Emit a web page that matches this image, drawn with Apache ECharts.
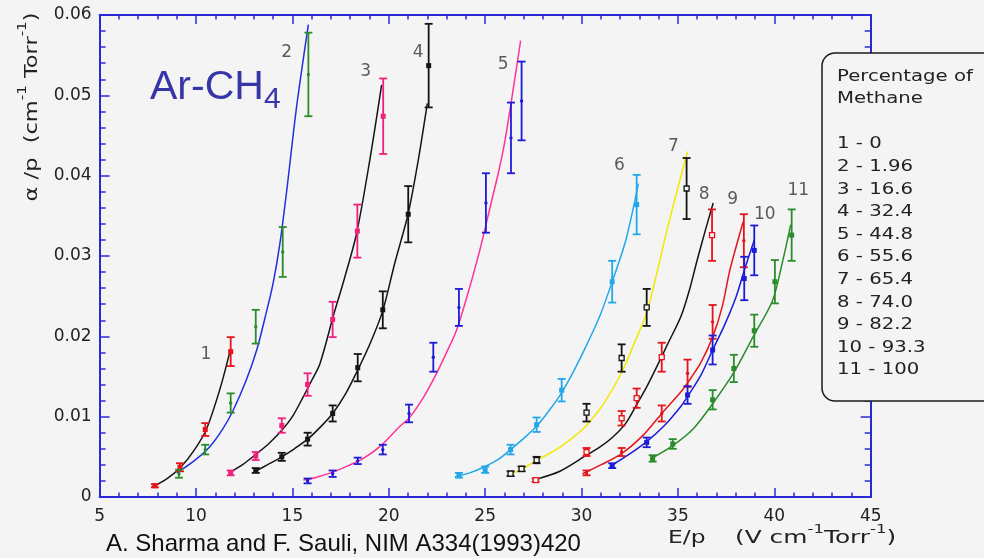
<!DOCTYPE html>
<html>
<head>
<meta charset="utf-8">
<script src="https://cdn.jsdelivr.net/npm/echarts@6/dist/echarts.min.js"></script>
<style>
  html, body { margin: 0; padding: 0; background: #f4f4f4; }
  #chart { width: 984px; height: 558px; }
</style>
</head>
<body>
<div id="chart"></div>
<script>
// First Townsend coefficient α/p versus reduced field E/p in Ar–CH4 mixtures.

// Methane fraction (%) of each numbered mixture
const curveTags  = ['1', '2', '3', '4', '5', '6', '7', '8', '9', '10', '11'];
const methanePct = ['0', '1.96', '16.6', '32.4', '44.8', '55.6', '65.4', '74.0', '82.2', '93.3', '100'];

// Measured points: [E/p, α/p, error]
const meas1  = [[7.87, 0.0014, 0.0002], [9.17, 0.0037, 0.0005], [10.48, 0.0084, 0.0008], [11.8, 0.0181, 0.0018]];
const meas2  = [[9.12, 0.0029, 0.0005], [10.48, 0.0059, 0.0006], [11.8, 0.0117, 0.0012], [13.1, 0.0212, 0.0021], [14.5, 0.0305, 0.0031], [15.83, 0.0526, 0.0052]];
const meas3  = [[11.8, 0.0030, 0.0003], [13.1, 0.0051, 0.0005], [14.45, 0.0089, 0.0009], [15.79, 0.0140, 0.0014], [17.09, 0.0221, 0.0022], [18.37, 0.0331, 0.0033], [19.71, 0.0474, 0.0047]];
const meas4  = [[13.1, 0.0033, 0.0003], [14.45, 0.0050, 0.0005], [15.79, 0.0072, 0.0008], [17.09, 0.0104, 0.0010], [18.39, 0.0161, 0.0017], [19.69, 0.0233, 0.0023], [21.01, 0.0352, 0.0035], [22.07, 0.0537, 0.0052]];
const meas5  = [[15.79, 0.0020, 0.0003], [17.09, 0.0029, 0.0004], [18.39, 0.0045, 0.0004], [19.69, 0.0059, 0.0006], [21.05, 0.0104, 0.0011], [22.31, 0.0174, 0.0018], [23.64, 0.0236, 0.0023], [25.04, 0.0366, 0.0037], [26.34, 0.0447, 0.0044], [26.89, 0.0493, 0.0049]];
const meas6  = [[23.64, 0.0027, 0.0003], [25.0, 0.0034, 0.0004], [26.32, 0.0059, 0.0006], [27.67, 0.0090, 0.0009], [28.97, 0.0133, 0.0014], [31.59, 0.0268, 0.0026], [32.86, 0.0364, 0.0037]];
const meas7  = [[26.32, 0.0029, 0.0003], [26.89, 0.0035, 0.0003], [27.67, 0.0046, 0.0004], [30.26, 0.0105, 0.0011], [32.08, 0.0173, 0.0017], [33.38, 0.0236, 0.0023], [35.45, 0.0384, 0.0038]];
const meas8  = [[27.62, 0.0021, 0.0002], [30.26, 0.0056, 0.0005], [32.08, 0.0098, 0.0009], [32.86, 0.0123, 0.0012], [34.16, 0.0174, 0.0018], [36.77, 0.0326, 0.0032]];
const meas9  = [[30.26, 0.0030, 0.0003], [32.08, 0.0056, 0.0005], [34.16, 0.0104, 0.0010], [35.5, 0.0154, 0.0017], [36.8, 0.0218, 0.0021], [38.42, 0.0319, 0.0033]];
const meas10 = [[31.59, 0.0039, 0.0003], [33.38, 0.0068, 0.0006], [35.5, 0.0127, 0.0011], [36.8, 0.0183, 0.0018], [38.44, 0.0272, 0.0027], [38.96, 0.0307, 0.0031]];
const meas11 = [[33.69, 0.0048, 0.0004], [34.73, 0.0066, 0.0006], [36.8, 0.0121, 0.0012], [37.9, 0.0160, 0.0017], [38.96, 0.0207, 0.0020], [40.03, 0.0268, 0.0027], [40.9, 0.0326, 0.0032]];

// Fitted curves: [E/p, α/p]
const fit1  = [[7.7, 0.0012], [8.5, 0.0023], [9.17, 0.0036], [9.9, 0.0058], [10.55, 0.0085], [11.25, 0.0135], [11.75, 0.0180]];
const fit2  = [[9.0, 0.0030], [9.9, 0.0045], [10.73, 0.0063], [11.4, 0.0085], [11.93, 0.0108], [12.6, 0.0145], [13.15, 0.0183], [13.6, 0.0225], [14.0, 0.0266], [14.35, 0.0315], [14.7, 0.0380], [15.22, 0.0486], [15.83, 0.0588]];
const fit3  = [[11.7, 0.0030], [12.4, 0.0040], [13.15, 0.0054], [13.8, 0.0067], [14.45, 0.0083], [15.0, 0.0100], [15.57, 0.0125], [16.0, 0.0145], [16.43, 0.0166], [17.12, 0.0225], [17.7, 0.0272], [18.33, 0.0328], [19.02, 0.0420], [19.63, 0.0513]];
const fit4  = [[13.0, 0.0031], [13.7, 0.0040], [14.45, 0.0050], [15.1, 0.0060], [15.79, 0.0072], [16.45, 0.0087], [17.09, 0.0104], [17.75, 0.0128], [18.39, 0.0158], [19.05, 0.0192], [19.69, 0.0232], [20.3, 0.0290], [21.0, 0.0352], [21.5, 0.0415], [22.0, 0.0490]];
const fit5  = [[15.57, 0.0021], [16.3, 0.0025], [17.1, 0.0031], [17.9, 0.0039], [18.68, 0.0048], [19.6, 0.0064], [20.58, 0.0088], [21.05, 0.0098], [21.8, 0.0124], [22.48, 0.0154], [23.0, 0.0180], [23.52, 0.0208], [24.1, 0.0253], [24.73, 0.0308], [25.3, 0.0365], [25.68, 0.0403], [26.0, 0.0440], [26.29, 0.0482], [26.84, 0.0568]];
const fit6  = [[23.43, 0.0025], [24.2, 0.0030], [25.0, 0.0038], [25.7, 0.0047], [26.32, 0.0059], [27.0, 0.0073], [27.67, 0.0088], [28.3, 0.0107], [28.97, 0.0130], [29.6, 0.0157], [30.26, 0.0189], [30.96, 0.0226], [31.59, 0.0268], [32.3, 0.0320], [32.95, 0.0390]];
const fit7  = [[26.2, 0.0027], [27.0, 0.0036], [27.67, 0.0046], [28.4, 0.0055], [29.05, 0.0065], [29.7, 0.0077], [30.26, 0.0089], [31.2, 0.0118], [32.08, 0.0155], [32.8, 0.0195], [33.38, 0.0229], [33.9, 0.0278], [34.41, 0.0330], [35.0, 0.0385], [35.5, 0.0430]];
const fit8  = [[27.5, 0.0021], [28.88, 0.0032], [30.26, 0.0052], [31.0, 0.0063], [31.64, 0.0075], [32.3, 0.0092], [32.86, 0.0115], [33.4, 0.0138], [33.9, 0.0162], [34.5, 0.0192], [35.16, 0.0225], [35.6, 0.0258], [36.0, 0.0295], [36.4, 0.0330], [36.83, 0.0366]];
const fit9  = [[30.05, 0.0029], [31.0, 0.0040], [32.08, 0.0054], [33.2, 0.0077], [34.16, 0.0104], [35.16, 0.0131], [35.5, 0.0142], [36.2, 0.0168], [36.8, 0.0199], [37.3, 0.0237], [37.7, 0.0283], [38.39, 0.0343]];
const fit10 = [[31.47, 0.0038], [32.4, 0.0052], [33.38, 0.0069], [34.3, 0.0089], [35.16, 0.0113], [35.5, 0.0125], [36.2, 0.0152], [36.8, 0.0183], [37.4, 0.0213], [38.0, 0.0248], [38.44, 0.0282], [38.96, 0.0320]];
const fit11 = [[33.55, 0.0047], [34.73, 0.0064], [35.8, 0.0085], [36.8, 0.0116], [37.9, 0.0155], [38.96, 0.0202], [39.9, 0.0244], [40.4, 0.0290], [40.85, 0.0339]];

// Where each curve number sits: [E/p, α/p]
const tagAt = [[10.52, 0.0177], [14.70, 0.0553], [18.80, 0.0530], [21.53, 0.0553], [25.94, 0.0538], [31.96, 0.0413], [34.76, 0.0436], [36.36, 0.0377], [37.84, 0.0370], [39.51, 0.0351], [41.24, 0.0381]];

const measured = [meas1, meas2, meas3, meas4, meas5, meas6, meas7, meas8, meas9, meas10, meas11];
const fitted   = [fit1, fit2, fit3, fit4, fit5, fit6, fit7, fit8, fit9, fit10, fit11];

// Drawing style of every mixture: point colour, point marker, curve colour
const looks = [
  { point: '#e5141c', mark: 'filled', curve: '#141414' },
  { point: '#2a8c2a', mark: 'dot',    curve: '#2030e0' },
  { point: '#f0207c', mark: 'filled', curve: '#141414' },
  { point: '#141414', mark: 'filled', curve: '#141414' },
  { point: '#1c1cd8', mark: 'dot',    curve: '#ff3396' },
  { point: '#22a8e8', mark: 'filled', curve: '#22a8e8' },
  { point: '#141414', mark: 'open',   curve: '#f4e800' },
  { point: '#e5141c', mark: 'open',   curve: '#141414' },
  { point: '#e5141c', mark: 'dot',    curve: '#e5141c' },
  { point: '#1c1cd8', mark: 'filled', curve: '#1c1cd8' },
  { point: '#2a8c2a', mark: 'filled', curve: '#2a8c2a' }
];

const BG = '#f4f4f4';
const AXIS_BLUE = '#2a2ad4';
const TEXT = '#222222';
const SQUARE_FONT = 'DejaVu Sans';

function errorBarRenderer(color, mark) {
  return function (params, api) {
    const x = api.value(0), y = api.value(1), e = api.value(2);
    const hi = api.coord([x, y + e]);
    const lo = api.coord([x, y - e]);
    const c = api.coord([x, y]);
    const w = 4;
    const ls = () => ({ stroke: color, lineWidth: 1.8 });
    const kids = [
      { type: 'line', shape: { x1: hi[0], y1: hi[1], x2: lo[0], y2: lo[1] }, style: ls() },
      { type: 'line', shape: { x1: hi[0] - w, y1: hi[1], x2: hi[0] + w, y2: hi[1] }, style: ls() },
      { type: 'line', shape: { x1: lo[0] - w, y1: lo[1], x2: lo[0] + w, y2: lo[1] }, style: ls() }
    ];
    if (mark === 'filled') {
      kids.push({ type: 'rect', shape: { x: c[0] - 2.5, y: c[1] - 2.5, width: 5, height: 5 }, style: { fill: color } });
    } else if (mark === 'open') {
      kids.push({ type: 'rect', shape: { x: c[0] - 2.5, y: c[1] - 2.5, width: 5, height: 5 }, style: { fill: BG, stroke: color, lineWidth: 1.3 } });
    } else {
      kids.push({ type: 'circle', shape: { cx: c[0], cy: c[1], r: 1.7 }, style: { fill: color } });
    }
    return { type: 'group', children: kids };
  };
}

const series = [];
fitted.forEach((curve, i) => {
  series.push({
    type: 'line', name: 'fit' + curveTags[i], data: curve, smooth: 0.3,
    symbol: 'none', silent: true, z: 3,
    lineStyle: { color: looks[i].curve, width: 1.5 }
  });
});
measured.forEach((pts, i) => {
  series.push({
    type: 'custom', name: 'data' + curveTags[i], data: pts, z: 4,
    encode: { x: 0, y: 1 },
    renderItem: errorBarRenderer(looks[i].point, looks[i].mark)
  });
});
series.push({
  type: 'scatter', name: 'tags', symbolSize: 0, z: 5, silent: true,
  data: tagAt.map((p, i) => ({ value: p, name: curveTags[i] })),
  label: { show: true, position: 'inside', formatter: '{b}', fontFamily: SQUARE_FONT, fontSize: 17, color: '#333' }
});

function frameAxis(extra) {
  return Object.assign({
    type: 'value',
    axisLine: { show: true, onZero: false, lineStyle: { color: AXIS_BLUE, width: 2 } },
    splitLine: { show: false },
    minorSplitLine: { show: false }
  }, extra);
}

const xTick = { show: true, inside: true, length: 9, lineStyle: { color: AXIS_BLUE, width: 1.5 } };
const xMinor = { show: true, splitNumber: 5, length: 4.5, lineStyle: { color: AXIS_BLUE, width: 1.5 } };
const yTick = { show: true, inside: true, length: 10, lineStyle: { color: AXIS_BLUE, width: 1.5 } };
const yMinor = { show: true, splitNumber: 5, length: 6, lineStyle: { color: AXIS_BLUE, width: 1.5 } };

const xLabel = { margin: 11, color: TEXT, fontFamily: SQUARE_FONT, fontSize: 17 };
const yLabel = { margin: 8, color: TEXT, fontFamily: SQUARE_FONT, fontSize: 17,
  formatter: v => (v === 0 ? '0' : v.toFixed(2)) };

const legendLines = ['Percentage of', 'Methane', ''].concat(
  methanePct.map((p, i) => curveTags[i] + ' - ' + p));

const supStyle = { fontFamily: SQUARE_FONT, fontSize: 12, lineHeight: 12, verticalAlign: 'top', fill: TEXT };

const option = {
  backgroundColor: BG,
  animation: false,
  grid: { left: 99.6, right: 113.3, top: 15, bottom: 61, containLabel: false, outerBoundsMode: 'none' },
  xAxis: [
    frameAxis({ min: 5, max: 45, interval: 5, position: 'bottom', axisTick: xTick, minorTick: xMinor, axisLabel: xLabel }),
    frameAxis({ min: 5, max: 45, interval: 5, position: 'top', axisTick: xTick, minorTick: xMinor, axisLabel: { show: false } })
  ],
  yAxis: [
    frameAxis({ min: 0, max: 0.06, interval: 0.01, position: 'left', axisTick: yTick, minorTick: yMinor, axisLabel: yLabel }),
    frameAxis({ min: 0, max: 0.06, interval: 0.01, position: 'right', axisTick: yTick, minorTick: yMinor, axisLabel: { show: false } })
  ],
  series: series,
  graphic: [
    // mixture key
    { type: 'rect', z: 100, shape: { x: 822, y: 53, width: 220, height: 348, r: 13 },
      style: { fill: BG, stroke: '#1a1a1a', lineWidth: 1.5 } },
    { type: 'text', z: 101, x: 837, y: 65.2, scaleX: 1.23,
      style: { text: legendLines.join('\n'), fontFamily: SQUARE_FONT, fontSize: 16, lineHeight: 22.6,
        align: 'left', verticalAlign: 'top', fill: '#222' } },
    // gas label
    { type: 'text', z: 101, x: 150, y: 87.8,
      style: { text: 'Ar-CH', fontFamily: 'Liberation Sans, Arial, sans-serif', fontSize: 41,
        align: 'left', verticalAlign: 'middle', fill: '#3636a8' } },
    { type: 'text', z: 101, x: 264, y: 99.6,
      style: { text: '4', fontFamily: 'Liberation Sans, Arial, sans-serif', fontSize: 30,
        align: 'left', verticalAlign: 'middle', fill: '#3636a8' } },
    // axis titles
    { type: 'text', z: 101, x: 668, y: 538.8, scaleX: 1.3,
      style: { text: 'E/p', fontFamily: SQUARE_FONT, fontSize: 18, lineHeight: 30,
        align: 'left', verticalAlign: 'middle', fill: TEXT } },
    { type: 'text', z: 101, x: 735, y: 538.8, scaleX: 1.38,
      style: { text: '(V cm{s|-1}Torr{s|-1})', fontFamily: SQUARE_FONT, fontSize: 18, lineHeight: 30,
        align: 'left', verticalAlign: 'middle', fill: TEXT, rich: { s: supStyle } } },
    { type: 'text', z: 101, x: 32, y: 107, rotation: Math.PI / 2, scaleX: 1.25,
      style: { text: '\u03b1 /p  (cm{s|-1} Torr{s|-1})', fontFamily: SQUARE_FONT, fontSize: 18, lineHeight: 30,
        align: 'center', verticalAlign: 'middle', fill: TEXT, rich: { s: supStyle } } },
    // source
    { type: 'text', z: 101, x: 106, y: 544.7, scaleX: 1.0,
      style: { text: 'A. Sharma and F. Sauli, NIM A334(1993)420', fontFamily: 'Liberation Sans, Arial, sans-serif',
        fontSize: 24, align: 'left', verticalAlign: 'middle', fill: '#111' } }
  ]
};

const chart = echarts.init(document.getElementById('chart'), null, { renderer: 'canvas' });
chart.setOption(option);
</script>
</body>
</html>
